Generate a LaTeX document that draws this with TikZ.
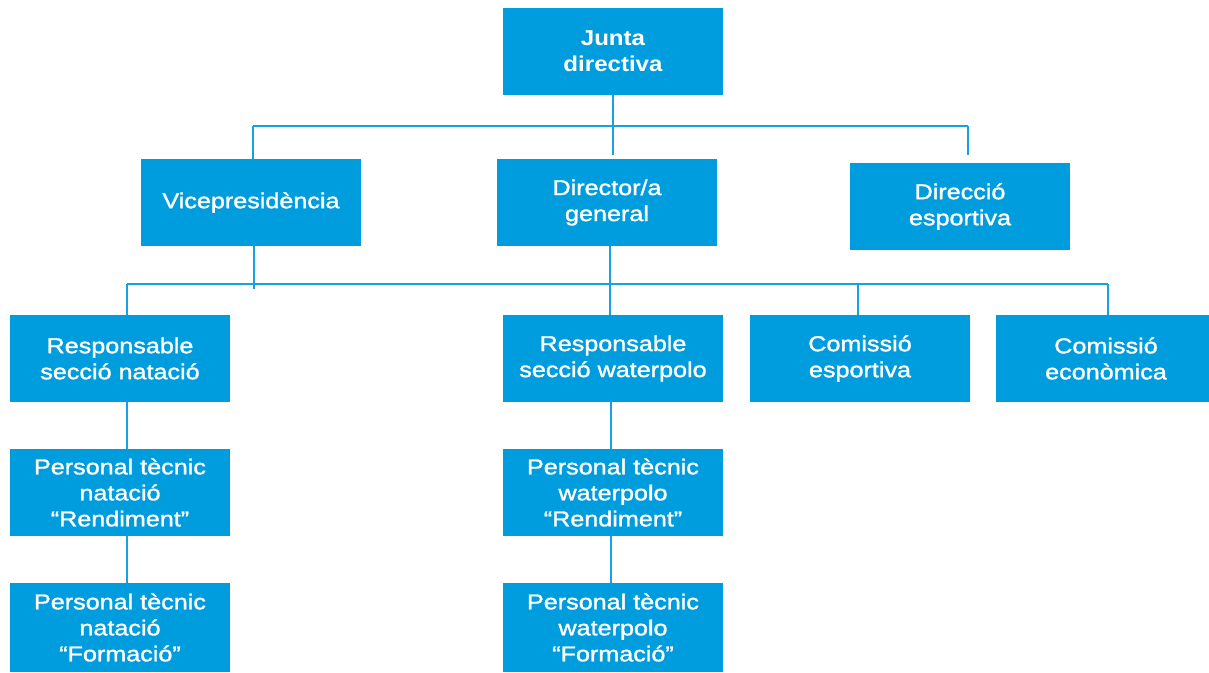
\documentclass[tikz,border=0pt]{standalone}
\usepackage{fontspec}
\setmainfont{Liberation Sans}[FakeStretch=1.17,FakeBold=1.4]
\newfontfamily\juntafont{Liberation Sans}[FakeStretch=1.12,BoldFont={Liberation Sans Bold}]
\definecolor{boxblue}{RGB}{0,157,222}
\definecolor{lineblue}{RGB}{24,161,224}
\tikzset{
  orgbox/.style={fill=boxblue, text=white, minimum width=220pt, minimum height=87pt,
    inner sep=0pt, align=center, font=\fontsize{21.5pt}{26pt}\selectfont},
  link/.style={draw=lineblue, line width=2.8pt},
}
\begin{document}
\begin{tikzpicture}[x=1pt,y=-1pt]
\useasboundingbox (0,0) rectangle (1209,672);
% boxes
\node[orgbox, font=\fontsize{21.5pt}{26pt}\selectfont\juntafont\bfseries] (junta) at (613,51.5) {Junta\\directiva};
\node[orgbox] (vice) at (251,202.5) {Vicepresidència};
\node[orgbox] (dir) at (607,202.5) {Director/a\\general};
\node[orgbox] (desp) at (960,206.5) {Direcció\\esportiva};
\node[orgbox] (rnat) at (120,358.5) {Responsable\\secció natació};
\node[orgbox] (rwat) at (613,358.5) {Responsable\\secció waterpolo};
\node[orgbox] (cesp) at (860,358.5) {Comissió\\esportiva};
\node[orgbox] (ceco) at (1106,358.5) {Comissió\\econòmica};
\node[orgbox] (pnr) at (120,492.5) {Personal tècnic\\natació\\“Rendiment”};
\node[orgbox, minimum height=89pt] (pnf) at (120,627.5) {Personal tècnic\\natació\\“Formació”};
\node[orgbox] (pwr) at (613,492.5) {Personal tècnic\\waterpolo\\“Rendiment”};
\node[orgbox, minimum height=89pt] (pwf) at (613,627.5) {Personal tècnic\\waterpolo\\“Formació”};
% top bus
\coordinate (tl) at (253,126);
\coordinate (tm) at (613,126);
\coordinate (tr) at (968,126);
\coordinate (tme) at (613,155);
\coordinate (tre) at (968,155);
\draw[link] (tl) -- (tr);
\draw[link] (junta.south) -- (tme);
\draw[link] (tl) -- (tl |- vice.north);
\draw[link] (tr) -- (tre);
% second bus
\coordinate (bl) at (127,284);
\coordinate (bv) at (254,289);
\coordinate (bd) at (610,284);
\coordinate (bc) at (858,284);
\coordinate (br) at (1108,284);
\draw[link] (bl) -- (br);
\draw[link] (bv |- vice.south) -- (bv);
\draw[link] (bd |- dir.south) -- (bd |- rwat.north);
\draw[link] (bl) -- (bl |- rnat.north);
\draw[link] (bc) -- (bc |- cesp.north);
\draw[link] (br) -- (br |- ceco.north);
% lower chains
\draw[link] (bl |- rnat.south) -- (bl |- pnr.north);
\draw[link] (bl |- pnr.south) -- (bl |- pnf.north);
\coordinate (wv) at (611,0);
\draw[link] (wv |- rwat.south) -- (wv |- pwr.north);
\draw[link] (wv |- pwr.south) -- (wv |- pwf.north);
\end{tikzpicture}
\end{document}
